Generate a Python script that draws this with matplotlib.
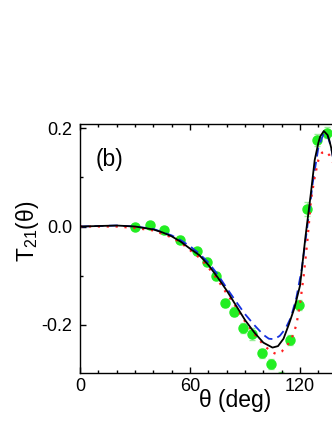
import numpy as np
import matplotlib
matplotlib.use('Agg')
import matplotlib.pyplot as plt
from matplotlib.ticker import MultipleLocator

plt.rcParams['font.family'] = ['Liberation Sans', 'DejaVu Sans']
plt.rcParams['mathtext.fontset'] = 'custom'
plt.rcParams['mathtext.rm'] = 'Liberation Sans'
plt.rcParams['mathtext.it'] = 'Liberation Sans:italic'

# measured points
theta_exp = [30, 38, 46, 54.5, 64, 69, 74, 79, 84, 89, 94, 99, 104, 109.5, 114.5, 119.5, 124, 129, 134.5]
t21_exp = [0.0, 0.003, -0.007, -0.027, -0.050, -0.072, -0.100, -0.155, -0.173, -0.207,
           -0.219, -0.258, -0.280, -0.305, -0.231, -0.159, 0.035, 0.176, 0.191]
t21_err = [0.006, 0.006, 0.006, 0.007, 0.007, 0.008, 0.008, 0.008, 0.009, 0.010,
           0.012, 0.010, 0.010, 0.010, 0.010, 0.010, 0.014, 0.012, 0.012]

# black solid
theta_a = [0, 10, 20, 30, 40, 45, 50, 55, 60, 65, 70, 75, 80, 85, 90, 95, 100, 105, 108,
           111, 114, 117, 120, 123, 126, 128, 130, 131, 133, 135, 136, 137, 138, 140]
t21_a = [0.0, 0.001, 0.002, 0.0, -0.006, -0.012, -0.020, -0.031, -0.045, -0.058, -0.078,
         -0.103, -0.130, -0.160, -0.190, -0.215, -0.236, -0.246, -0.243, -0.228, -0.198,
         -0.165, -0.120, -0.020, 0.070, 0.135, 0.170, 0.183, 0.194, 0.186, 0.175, 0.160,
         0.140, 0.100]

# blue dashed
theta_b = [0, 10, 20, 30, 40, 50, 55, 60, 65, 70, 75, 80, 85, 90, 95, 100, 103, 106, 109,
           112, 115, 118, 121, 124, 127, 130, 133, 135, 137, 139]
t21_b = [0.0, 0.001, 0.002, 0.0, -0.005, -0.018, -0.028, -0.040, -0.055, -0.073, -0.097,
         -0.125, -0.152, -0.178, -0.200, -0.220, -0.228, -0.229, -0.222, -0.208, -0.185,
         -0.145, -0.085, 0.000, 0.090, 0.160, 0.190, 0.185, 0.160, 0.120]

# red dotted
theta_c = [0, 10, 20, 30, 40, 50, 55, 60, 65, 70, 75, 80, 85, 90, 95, 100, 104, 107, 110,
           113, 116, 118, 120, 122, 124, 126, 128, 130, 132, 134, 136, 138]
t21_c = [0.0, 0.0, 0.0, -0.003, -0.008, -0.022, -0.033, -0.048, -0.063, -0.083, -0.108,
         -0.136, -0.163, -0.193, -0.218, -0.240, -0.254, -0.259, -0.254, -0.242, -0.222,
         -0.200, -0.158, -0.100, -0.030, 0.055, 0.100, 0.135, 0.150, 0.153, 0.145, 0.130]

x_major = [0, 60, 120]
x_labels = ['0', '60', '120']
y_major = [-0.2, 0.0, 0.2]
y_labels = ['-0.2', '0.0', '0.2']

fig = plt.figure(figsize=(3.32, 4.30), dpi=100)
ax = fig.add_axes([0.241, 0.1333, 0.994, 0.578])

ax.plot(theta_a, t21_a, color='black', lw=1.3, zorder=3)
ax.plot(theta_b, t21_b, color='#1530e0', lw=1.3, ls=(0, (5, 3)), zorder=2)
ax.plot(theta_c, t21_c, color='#ff2020', lw=1.6, ls=(0, (1, 3)), zorder=2)
ax.errorbar(theta_exp, t21_exp, yerr=t21_err, fmt='o', color='#22ee22', ms=6.5,
            mec='#22ee22', ecolor='#99ee99', elinewidth=1, capsize=2.5, zorder=1)

ax.set_xlim(0, 180)
ax.set_ylim(-0.297, 0.208)
ax.set_xticks(x_major, x_labels)
ax.set_yticks(y_major, y_labels)
ax.xaxis.set_minor_locator(MultipleLocator(10))
ax.yaxis.set_minor_locator(MultipleLocator(0.1))
ax.tick_params(which='both', direction='in', top=True, right=True, labelsize=13)
ax.tick_params(axis='y', pad=5.5)
ax.tick_params(which='major', length=4, width=1)
ax.tick_params(which='minor', length=2.5, width=1)
for s in ax.spines.values():
    s.set_linewidth(1)

ax.set_xlabel('θ (deg)', fontsize=16.5)
ax.xaxis.set_label_coords(0.47, -0.066)
ax.set_ylabel('T$_{21}$(θ)', fontsize=16.5)
ax.yaxis.set_label_coords(-0.118, 0.57)
ax.text(0.0897, 0.857, '(b)', transform=ax.transAxes, fontsize=16.5,
        ha='center', va='center')

fig.savefig('out.png', dpi=100)
